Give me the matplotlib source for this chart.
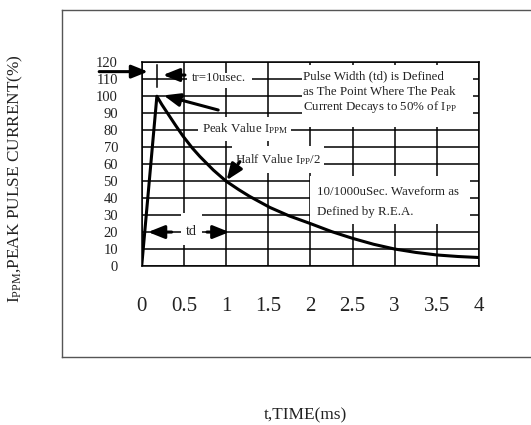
import matplotlib
matplotlib.use("Agg")
import matplotlib.pyplot as plt
from matplotlib.patches import Rectangle
from matplotlib.lines import Line2D

plt.rcParams['font.family'] = ['Liberation Serif', 'DejaVu Serif']
plt.rcParams['mathtext.fontset'] = 'custom'
plt.rcParams['mathtext.rm'] = 'Liberation Serif'
plt.rcParams['mathtext.it'] = 'Liberation Serif:italic'

# ---- data ----
time_ms = [0, 0.18, 0.24, 0.30, 0.40, 0.49, 0.60, 0.69, 0.85, 1.0, 1.15, 1.28,
           1.52, 1.75, 2.0, 2.25, 2.5, 2.75, 3.0, 3.25, 3.5, 3.75, 4.0]
current_pct = [0, 100, 95, 90.5, 83, 76.5, 69.5, 64.5, 56.5, 50, 45, 41,
               34.5, 29.5, 25, 20.3, 16.3, 12.8, 10, 8, 6.5, 5.6, 5]
x_ticks = [0, 0.5, 1, 1.5, 2, 2.5, 3, 3.5, 4]
x_tick_labels = ['0', '0.5', '1', '1.5', '2', '2.5', '3', '3.5', '4']
y_ticks = [0, 10, 20, 30, 40, 50, 60, 70, 80, 90, 100, 110, 120]
y_tick_labels = [str(v) for v in y_ticks]

TXT = '#222222'

fig = plt.figure(figsize=(5.31, 4.25), dpi=100)
ax = fig.add_axes([141.7 / 531, 1 - 266 / 425, (479 - 141.7) / 531, (266 - 62.3) / 425])

# outer frame (no right edge)
fl = 62 / 531
ft = 1 - 9.5 / 425
fb = 1 - 357 / 425
for xs, ys in [([fl, 1.0], [ft, ft]), ([fl, 1.0], [fb, fb]), ([fl, fl], [fb, ft])]:
    fig.add_artist(Line2D(xs, ys, transform=fig.transFigure, color='#555555', lw=1.0))

ax.set_xlim(0, 4)
ax.set_ylim(0, 120)
ax.set_xticks(x_ticks)
ax.set_xticklabels(x_tick_labels, fontsize=15, color=TXT)
ax.set_yticks(y_ticks)
ax.set_yticklabels(y_tick_labels, fontsize=10.5, color=TXT)
ax.tick_params(axis='x', length=0, pad=22)
ax.tick_params(axis='y', length=0, pad=17)
ax.set_axisbelow(True)
ax.grid(True, color='black', lw=1.1)
for s in ax.spines.values():
    s.set_color('black')
    s.set_linewidth(1.1)

# white label boxes that interrupt the grid
boxes = [
    (0.537, 1.307, 104.9, 113.7),   # tr
    (0.667, 1.770, 73.6, 87.8),     # peak value
    (1.070, 2.160, 54.8, 70.7),     # half value
    (1.900, 3.926, 81.9, 118.4),    # pulse width
    (1.990, 3.890, 24.7, 53.0),     # waveform
    (0.465, 0.714, 12.4, 31.2),     # td
]
for x0, x1, y0, y1 in boxes:
    ax.add_patch(Rectangle((x0, y0), x1 - x0, y1 - y0, facecolor='white',
                           edgecolor='none', zorder=1))

ax.plot(time_ms, current_pct, color='black', lw=2.2, zorder=3,
        solid_joinstyle='round', solid_capstyle='round')

fs = 9.3
ax.text(0.592, 110.6, 'tr=10usec.', fontsize=fs, color=TXT, va='center', ha='left', zorder=4)
ax.text(0.71, 81.1, r'Peak Value I$_{\rm PPM}$', fontsize=fs, color=TXT, va='center', ha='left', zorder=4)
ax.text(1.105, 62.9, r'Half Value I$_{\rm PP}$/2', fontsize=fs, color=TXT, va='center', ha='left', zorder=4)
ax.text(1.915, 111.5, 'Pulse Width (td) is Defined', fontsize=fs, color=TXT, va='center', ha='left', zorder=4)
ax.text(1.915, 102.7, 'as The Point Where The Peak', fontsize=fs, color=TXT, va='center', ha='left', zorder=4)
ax.text(1.915, 93.9, r'Current Decays to 50% of I$_{\rm PP}$', fontsize=fs, color=TXT, va='center', ha='left', zorder=4)
ax.text(2.074, 43.8, '10/1000uSec. Waveform as', fontsize=fs, color=TXT, va='center', ha='left', zorder=4)
ax.text(2.074, 32.0, 'Defined by R.E.A.', fontsize=fs, color=TXT, va='center', ha='left', zorder=4)
ax.text(0.585, 20.6, 'td', fontsize=fs + 1, color=TXT, va='center', ha='center', zorder=4)

arrow_style = '-|>,head_length=0.7,head_width=0.28'
def arrow(tail, tip):
    ax.annotate('', xy=tip, xytext=tail, annotation_clip=False,
                arrowprops=dict(arrowstyle=arrow_style, mutation_scale=14, lw=2.2,
                                color='black', shrinkA=0, shrinkB=0),
                zorder=5)

arrow((-0.504, 114.5), (0.075, 114.5))
arrow((0.513, 112.5), (0.252, 112.5))
ax.plot([0.178, 0.178], [105.3, 118.4], color='black', lw=1.1, zorder=3)
arrow((0.907, 91.9), (0.26, 100.5))
arrow((1.165, 61.5), (1.007, 50.5))
arrow((0.355, 20), (0.075, 20))
arrow((0.774, 20), (1.04, 20))

fig.text(15 / 531, 1 - 179 / 425, r'I$_{\rm PPM}$,PEAK PULSE CURRENT(%)', rotation=90,
         fontsize=12.4, color=TXT, ha='center', va='center')
fig.text(305 / 531, 1 - 415 / 425, 't,TIME(ms)', fontsize=12.4, color=TXT,
         ha='center', va='center')

fig.savefig('out.png', dpi=100)
